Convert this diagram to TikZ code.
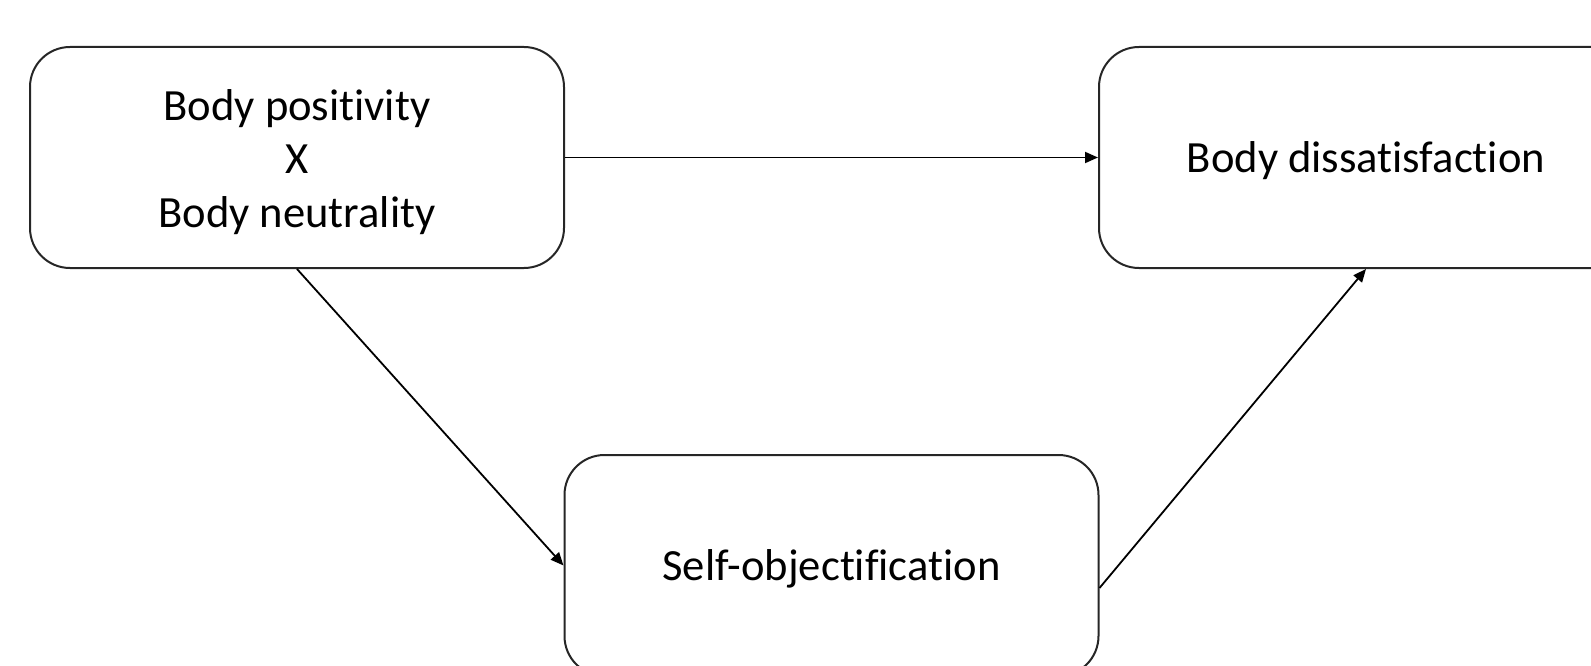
\documentclass[tikz,border=0pt]{standalone}
\usepackage{fontspec}
\setmainfont{Carlito}[Ligatures=NoCommon]
\usetikzlibrary{arrows.meta}
\begin{document}
\begin{tikzpicture}[x=1pt,y=-1pt,
  box/.style={draw=black!85,line width=2pt,rounded corners=40pt,minimum width=534pt,minimum height=221pt,inner sep=0pt},
  lbl/.style={inner sep=0pt,align=center,font=\fontsize{44.6}{53.8}\selectfont},
  conn/.style={draw=black,line width=1.8pt,-{Triangle[length=13pt,width=11pt]}}]
\useasboundingbox (0,0) rectangle (1591,666);
\clip (0,0) rectangle (1591,666);
\node[box] (bp) at (297,157.5) {};
\node[box] (bd) at (1366,157.5) {};
\node[box] (so) at (831.5,565.5) {};
\node[lbl] (bpt) at ([yshift=-4.5pt]bp.center) {Body positivity\\X\\Body neutrality};
\node[lbl] (bdt) at ([yshift=-3pt]bd.center) {Body dissatisfaction};
\node[lbl] (sot) at ([yshift=-3.5pt]so.center) {Self-objectification};
\draw[conn] (bp.east) -- (bd.west);
\draw[conn] (bp.south) -- (so.west);
\coordinate (soout) at ([yshift=-22.5pt]so.east);
\draw[conn] (soout) -- (bd.south);
\end{tikzpicture}
\end{document}
